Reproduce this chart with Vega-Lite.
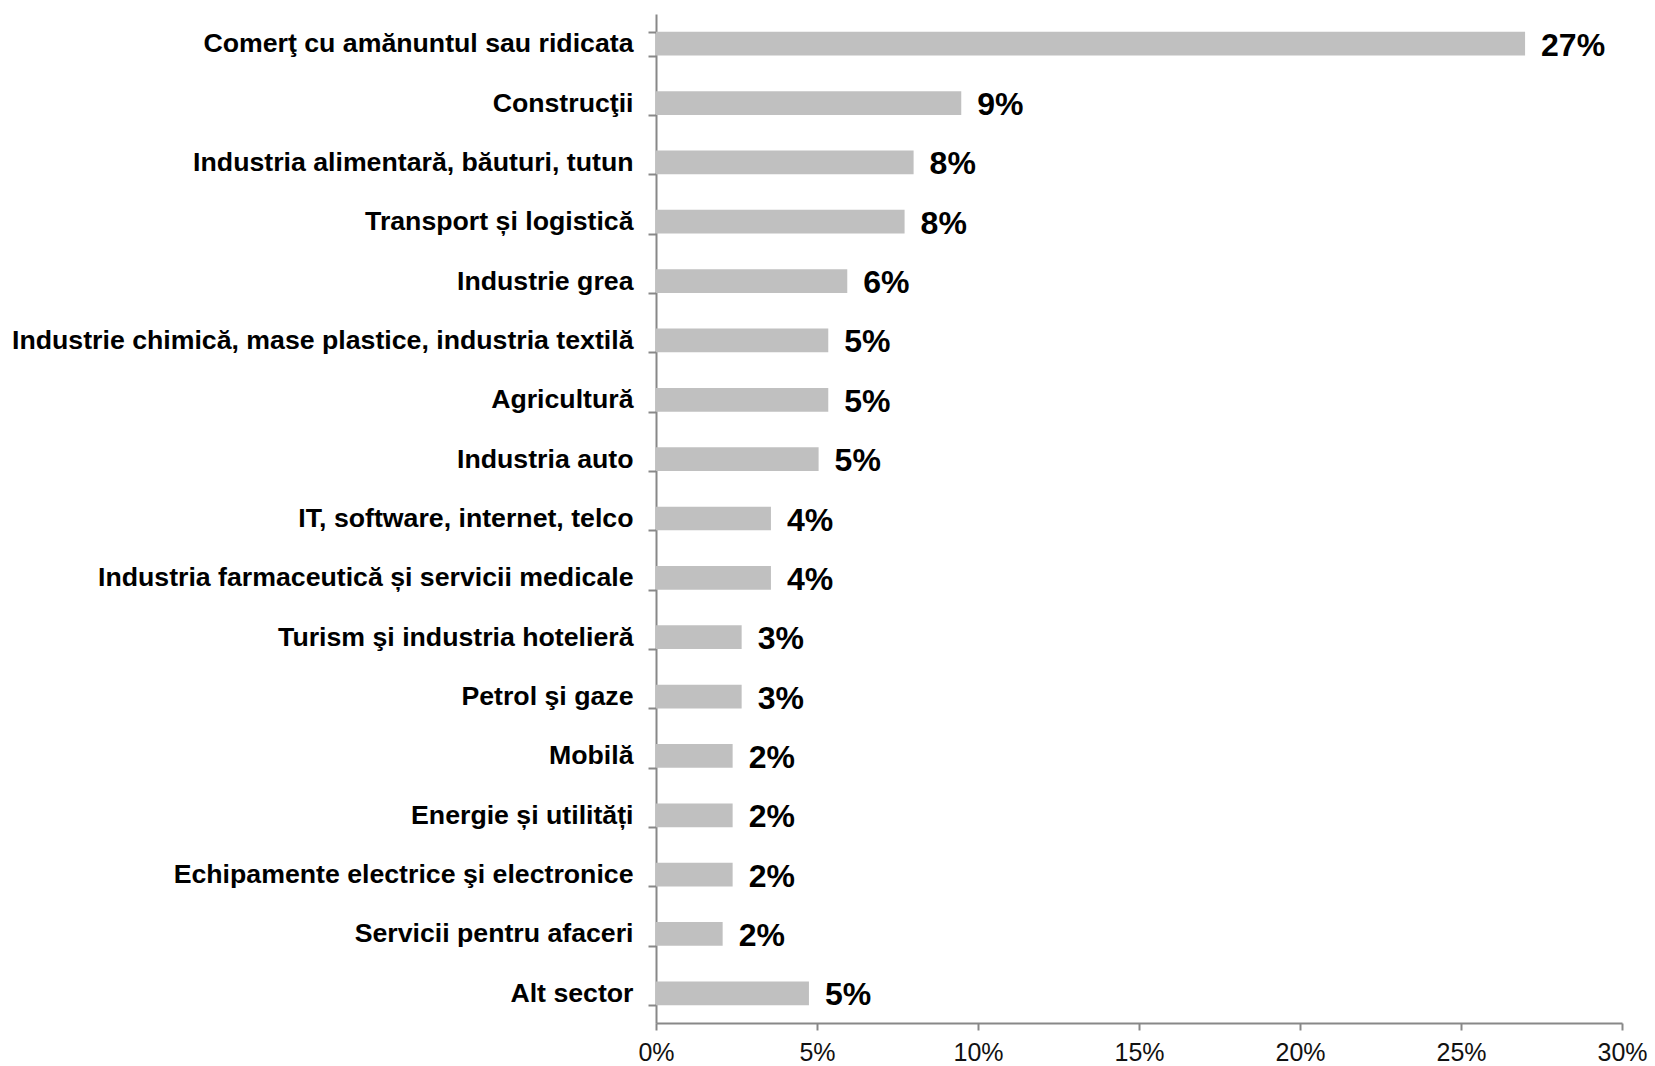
{
  "$schema": "https://vega.github.io/schema/vega-lite/v6.json",
  "autosize": {"type": "none"},
  "width": 966,
  "height": 1009,
  "padding": {"left": 656, "top": 14, "right": 33, "bottom": 43},
  "background": "white",
  "data": {
    "values": [
      {"sector": "Comerţ cu amănuntul sau ridicata", "share": 0.2699},
      {"sector": "Construcţii", "share": 0.0948},
      {"sector": "Industria alimentară, băuturi, tutun", "share": 0.080},
      {"sector": "Transport și logistică", "share": 0.0772},
      {"sector": "Industrie grea", "share": 0.0594},
      {"sector": "Industrie chimică, mase plastice, industria textilă", "share": 0.0535},
      {"sector": "Agricultură", "share": 0.0535},
      {"sector": "Industria auto", "share": 0.0505},
      {"sector": "IT, software, internet, telco", "share": 0.0357},
      {"sector": "Industria farmaceutică și servicii medicale", "share": 0.0357},
      {"sector": "Turism şi industria hotelieră", "share": 0.0266},
      {"sector": "Petrol şi gaze", "share": 0.0266},
      {"sector": "Mobilă", "share": 0.0238},
      {"sector": "Energie și utilități", "share": 0.0238},
      {"sector": "Echipamente electrice şi electronice", "share": 0.0238},
      {"sector": "Servicii pentru afaceri", "share": 0.0207},
      {"sector": "Alt sector", "share": 0.0475}
    ]
  },
  "encoding": {
    "y": {
      "field": "sector",
      "type": "nominal",
      "sort": null,
      "scale": {"paddingInner": 0.6, "paddingOuter": 0.3},
      "axis": {
        "title": null,
        "tickBand": "extent",
        "domainColor": "#888888",
        "domainWidth": 2,
        "tickColor": "#888888",
        "tickWidth": 2,
        "tickSize": 8,
        "labelPadding": 15,
        "labelFont": "Liberation Sans",
        "labelFontWeight": "bold",
        "labelFontSize": 26.7,
        "labelColor": "#000000",
        "labelLimit": 700
      }
    },
    "x": {
      "field": "share",
      "type": "quantitative",
      "scale": {"domain": [0, 0.3], "nice": false},
      "axis": {
        "title": null,
        "values": [0, 0.05, 0.1, 0.15, 0.2, 0.25, 0.3],
        "format": ".0%",
        "grid": false,
        "domainColor": "#888888",
        "domainWidth": 2,
        "tickColor": "#888888",
        "tickWidth": 2,
        "tickSize": 7,
        "labelPadding": 10,
        "labelFont": "Liberation Sans",
        "labelFontSize": 25,
        "labelColor": "#111111",
        "labelFlush": false
      }
    }
  },
  "layer": [
    {"mark": {"type": "bar", "color": "#c0c0c0"}},
    {
      "mark": {
        "type": "text",
        "align": "left",
        "baseline": "middle",
        "dx": 16,
        "dy": 2,
        "font": "Liberation Sans",
        "fontWeight": "bold",
        "fontSize": 32,
        "color": "#000000"
      },
      "encoding": {"text": {"field": "share", "format": ".0%"}}
    }
  ],
  "config": {"view": {"stroke": null}}
}
